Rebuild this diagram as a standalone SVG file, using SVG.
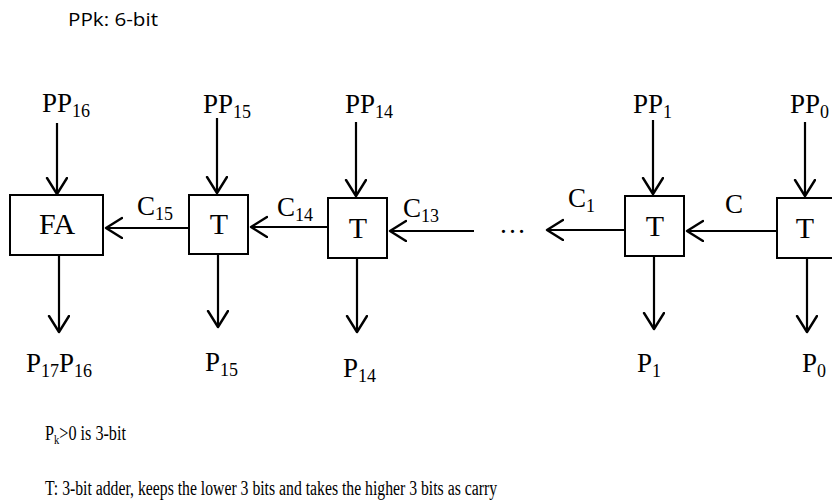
<svg xmlns="http://www.w3.org/2000/svg" width="832" height="504" viewBox="0 0 832 504">
<style>
  .box { fill: #fff; stroke: #000; stroke-width: 2; }
  .wire { stroke: #000; stroke-width: 2.2; fill: none; marker-end: url(#arr); }
  .lbl { font-family: "Liberation Serif", "Times New Roman", serif; font-size: 27px; fill: #000; }
  .big { font-family: "Liberation Serif", "Times New Roman", serif; font-size: 30px; fill: #000; text-anchor: middle; }
  .sub { font-size: 18px; }
  .note { font-family: "Liberation Serif", "Times New Roman", serif; font-size: 20px; fill: #000; }
  .head { font-family: "Open Sans", "Noto Sans", sans-serif; font-size: 18px; fill: #000; }
</style>
<defs>
  <marker id="arr" markerUnits="userSpaceOnUse" markerWidth="22" markerHeight="26" refX="17" refY="11" orient="auto" viewBox="0 0 22 26">
    <path d="M1,1 L17,11 L1,21" fill="none" stroke="#000" stroke-width="2.4" stroke-linejoin="round" stroke-linecap="round"/>
  </marker>
</defs>
<rect width="832" height="504" fill="#fff"/>

<text class="head" x="68" y="26" textLength="90" lengthAdjust="spacingAndGlyphs">PPk: 6-bit</text>

<g id="connectors">
  <line class="wire" x1="57" y1="123" x2="57" y2="194"/>
  <line class="wire" x1="217" y1="118" x2="217" y2="193"/>
  <line class="wire" x1="356" y1="122" x2="356" y2="196"/>
  <line class="wire" x1="653" y1="120" x2="653" y2="194"/>
  <line class="wire" x1="805" y1="122" x2="805" y2="196"/>

  <line class="wire" x1="189" y1="228" x2="106" y2="228"/>
  <line class="wire" x1="328" y1="227" x2="251" y2="227"/>
  <line class="wire" x1="474" y1="231" x2="390" y2="231"/>
  <line class="wire" x1="625" y1="230" x2="547" y2="230"/>
  <line class="wire" x1="777" y1="231" x2="687" y2="231"/>

  <line class="wire" x1="59" y1="255" x2="59" y2="332"/>
  <line class="wire" x1="218" y1="254" x2="218" y2="327"/>
  <line class="wire" x1="357" y1="258" x2="357" y2="332"/>
  <line class="wire" x1="654" y1="256" x2="654" y2="329"/>
  <line class="wire" x1="807" y1="258" x2="807" y2="332"/>
</g>

<g id="FA">
  <rect class="box" x="10" y="195" width="93" height="60"/>
  <text class="big" x="57" y="234">FA</text>
</g>
<g id="T15">
  <rect class="box" x="189" y="195" width="59" height="59"/>
  <text class="big" x="219" y="234">T</text>
</g>
<g id="T14">
  <rect class="box" x="328" y="198" width="59" height="60"/>
  <text class="big" x="358" y="238">T</text>
</g>
<g id="T1">
  <rect class="box" x="625" y="196" width="59" height="60"/>
  <text class="big" x="655" y="236">T</text>
</g>
<g id="T0">
  <rect class="box" x="777" y="198" width="60" height="60"/>
  <text class="big" x="805" y="238">T</text>
</g>

<g id="inputs">
  <text class="lbl" x="42" y="112">PP<tspan class="sub" dy="5">16</tspan></text>
  <text class="lbl" x="203" y="113">PP<tspan class="sub" dy="5">15</tspan></text>
  <text class="lbl" x="345" y="113">PP<tspan class="sub" dy="5">14</tspan></text>
  <text class="lbl" x="633" y="113">PP<tspan class="sub" dy="5">1</tspan></text>
  <text class="lbl" x="790" y="113">PP<tspan class="sub" dy="5">0</tspan></text>
</g>

<g id="carries">
  <text class="lbl" x="137" y="215">C<tspan class="sub" dy="5">15</tspan></text>
  <text class="lbl" x="277" y="216">C<tspan class="sub" dy="5">14</tspan></text>
  <text class="lbl" x="403" y="217">C<tspan class="sub" dy="5">13</tspan></text>
  <text class="lbl" x="568" y="207">C<tspan class="sub" dy="5">1</tspan></text>
  <text class="lbl" x="725" y="213">C</text>
  <text class="lbl" x="499" y="233" font-size="24">…</text>
</g>

<g id="outputs">
  <text class="lbl" x="26" y="372">P<tspan class="sub" dy="5">17</tspan><tspan dy="-5">P</tspan><tspan class="sub" dy="5">16</tspan></text>
  <text class="lbl" x="205" y="371">P<tspan class="sub" dy="5">15</tspan></text>
  <text class="lbl" x="343" y="377">P<tspan class="sub" dy="5">14</tspan></text>
  <text class="lbl" x="637" y="372">P<tspan class="sub" dy="5">1</tspan></text>
  <text class="lbl" x="802" y="372">P<tspan class="sub" dy="5">0</tspan></text>
</g>

<g id="notes">
  <text class="note" transform="translate(45,440) scale(0.81,1)">P<tspan font-size="13" dy="4">k</tspan><tspan dy="-4">&gt;0 is 3-bit</tspan></text>
  <text class="note" x="45" y="495" textLength="452" lengthAdjust="spacingAndGlyphs">T: 3-bit adder, keeps the lower 3 bits and takes the higher 3 bits as carry</text>
</g>
</svg>
